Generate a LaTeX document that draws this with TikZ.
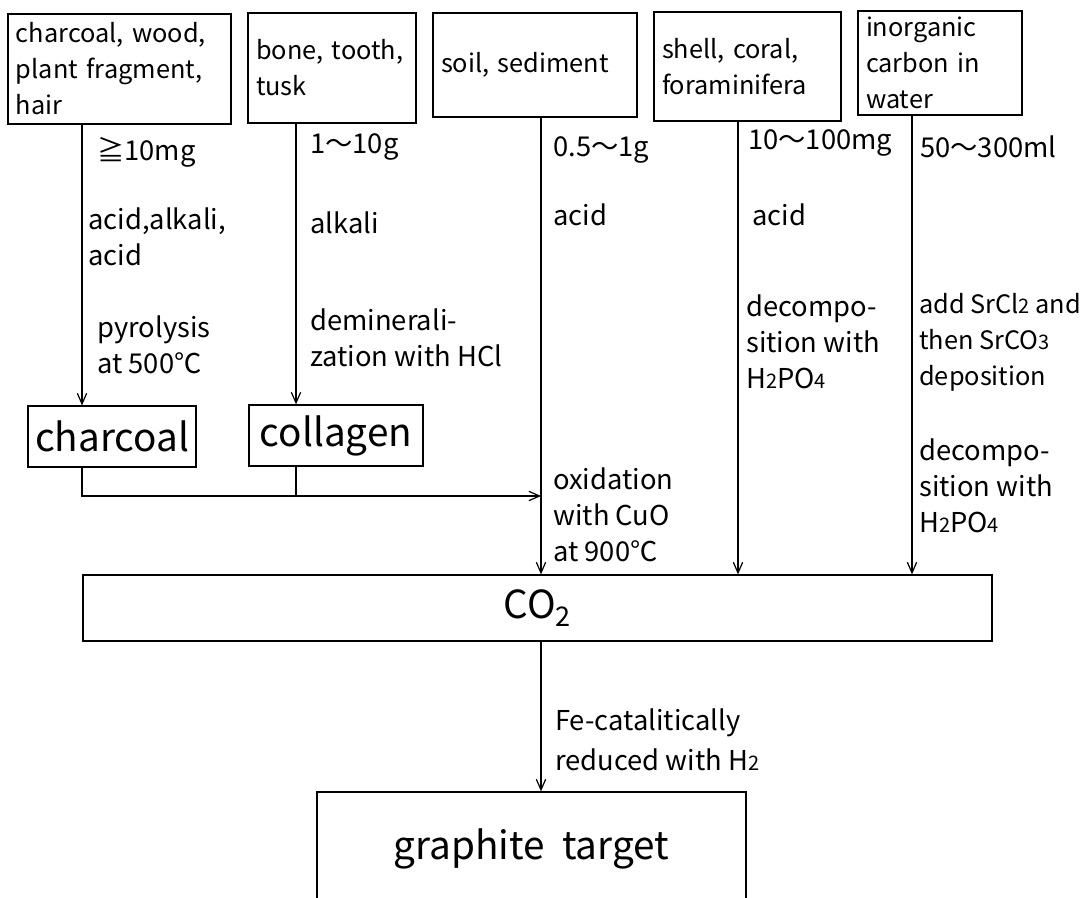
\documentclass[tikz,border=0pt]{standalone}
\usepackage{fontspec}
\setmainfont{Noto Sans CJK JP}
\usetikzlibrary{positioning,arrows.meta}
\newcommand{\lowdig}[1]{{\fontsize{15pt}{15pt}\selectfont #1}}

\begin{document}
\begin{tikzpicture}[x=0.75pt, y=-0.75pt,
    every node/.style={font=\fontsize{19pt}{27pt}\selectfont, inner sep=0pt},
    srcBox/.style={rectangle, draw, line width=0.9pt, align=left, inner xsep=6pt, inner ysep=2pt},
    prodBox/.style={rectangle, draw, line width=0.9pt, font=\fontsize{29pt}{34pt}\selectfont},
    stepLabel/.style={anchor=west, align=left, font=\fontsize{20.5pt}{27pt}\selectfont},
    flowLine/.style={draw, line width=0.9pt, -{Straight Barb[length=8pt,width=7pt]}},
    joinLine/.style={draw, line width=0.9pt}
]
    \fill [white] (0,0) rectangle (1086,898);
    \path [clip, use as bounding box] (0,0) rectangle (1086,898);

    % samples
    \node [srcBox, text width=155.25pt, minimum height=82.5pt] (wood) at (119.5,69) {charcoal, wood,\\plant fragment,\\hair};
    \node [srcBox, text width=114pt, minimum height=82.5pt] (bone) at (332,68) {bone, tooth,\\tusk};
    \node [srcBox, text width=141pt, minimum height=78pt] (soil) at (535,65) {soil, sediment};
    \node [srcBox, text width=128.25pt, minimum height=81.75pt] (shell) at (747.5,66.5) {shell, coral,\\foraminifera};
    \node [srcBox, text width=111pt, minimum height=78pt] (water) at (940,63) {inorganic\\carbon in\\water};

    % products
    \node [prodBox, minimum width=126pt, minimum height=45.75pt] (charcoal) at (112,436.5) {charcoal};
    \node [prodBox, minimum width=130.5pt, minimum height=45.75pt] (collagen) at (336,435.5) {collagen};
    \node [prodBox, minimum width=681.75pt, minimum height=49.5pt] (co2) at (537.5,608) {CO\textsubscript{2}};
    \node [prodBox, minimum width=321.75pt, minimum height=84.75pt] (target) at (531.5,848.5) {graphite\ \ target};

    % amounts and treatments
    \node [stepLabel] (amtWood) at (97,152) {≧10mg};
    \node [stepLabel] (trtWood) at (88,236.5) {acid,alkali,\\acid};
    \node [stepLabel] (pyro) at (97,344.5) {pyrolysis\\at 500℃};
    \node [stepLabel] (amtBone) at (310,147) {1～10g};
    \node [stepLabel] (trtBone) at (310,223) {alkali};
    \node [stepLabel] (demin) at (310,337.5) {demineral­i-\\zation with HCl};
    \node [stepLabel] (amtSoil) at (553,150) {0.5～1g};
    \node [stepLabel] (trtSoil) at (553,215) {acid};
    \node [stepLabel] (oxid) at (553,515) {oxidation\\with CuO\\at 900℃};
    \node [stepLabel] (amtShell) at (748,143) {10～100mg};
    \node [stepLabel] (trtShell) at (752,215) {acid};
    \node [stepLabel] (decShell) at (746,342) {decompo-\\sition with\\H\lowdig{2}PO\lowdig{4}};
    \node [stepLabel] (amtWater) at (920,147) {50～300ml};
    \node [stepLabel, font=\fontsize{19pt}{27pt}\selectfont] (srcl) at (919,342) {add SrCl\lowdig{2} and\\then SrCO\lowdig{3}\\deposition};
    \node [stepLabel] (decWater) at (919,486) {decompo-\\sition with\\H\lowdig{2}PO\lowdig{4}};
    \node [stepLabel, font=\fontsize{20.5pt}{30pt}\selectfont] (reduce) at (555,740) {Fe-catalitically\\reduced with H\lowdig{2}};

    \coordinate (xChar) at (82,0);
    \coordinate (xColl) at (296,0);
    \coordinate (xSoil) at (541,0);
    \coordinate (xShell) at (738,0);
    \coordinate (xWater) at (912,0);
    \coordinate (joinY) at (0,496);

    \path [flowLine] (wood.south -| xChar) -- (charcoal.north -| xChar);
    \path [flowLine] (bone.south -| xColl) -- (collagen.north -| xColl);
    \path [flowLine] (soil.south -| xSoil) -- (co2.north -| xSoil);
    \path [flowLine] (shell.south -| xShell) -- (co2.north -| xShell);
    \path [flowLine] (water.south -| xWater) -- (co2.north -| xWater);

    \path [flowLine] (charcoal.south -| xChar) |- (joinY -| xSoil);
    \path [joinLine] (collagen.south -| xColl) -- (joinY -| xColl);

    \path [flowLine] (co2.south -| xSoil) -- (target.north -| xSoil);
\end{tikzpicture}
\end{document}
